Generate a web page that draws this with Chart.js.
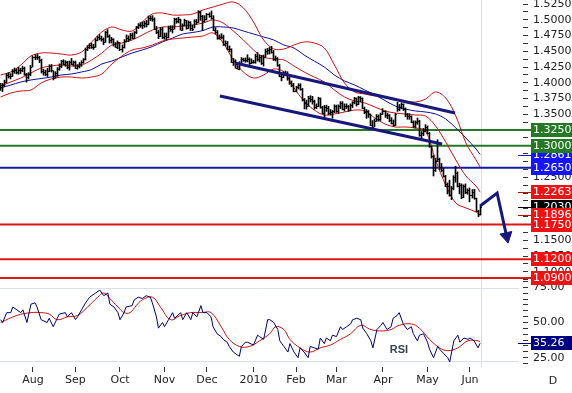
<!DOCTYPE html>
<html lang="en">
<head>
<meta charset="utf-8">
<title>EUR/USD diario</title>
<script src="https://cdn.jsdelivr.net/npm/chart.js@4.4.1/dist/chart.umd.min.js"></script>
<style>
  html, body { margin: 0; padding: 0; background: #ffffff; }
  #quadro { position: relative; width: 572px; height: 393px; overflow: hidden; }
  #graficoPreco { position: absolute; left: 0; top: 0; z-index: 2; }
  #graficoRsi { position: absolute; left: 0; top: 270px; z-index: 1; }
</style>
</head>
<body>
<div id="quadro">
  <canvas id="graficoRsi" width="572" height="123"></canvas>
  <canvas id="graficoPreco" width="572" height="285"></canvas>
</div>
<script>
// pregao 0 = 10/jul/2009 ... pregao 237 = 08/jun/2010 (dias uteis)
const maximas = [
  1.3990, 1.3990, 1.4040, 1.4150, 1.4160, 1.4145, 1.4210, 1.4235, 1.4220, 1.4245,
  1.4230, 1.4265, 1.4250, 1.4150, 1.4160, 1.4275, 1.4425, 1.4445, 1.4450, 1.4420,
  1.4375, 1.4215, 1.4200, 1.4230, 1.4285, 1.4290, 1.4190, 1.4175, 1.4240, 1.4300,
  1.4355, 1.4365, 1.4350, 1.4340, 1.4345, 1.4385, 1.4345, 1.4345, 1.4290, 1.4320,
  1.4350, 1.4385, 1.4550, 1.4590, 1.4620, 1.4630, 1.4610, 1.4700, 1.4740, 1.4765,
  1.4740, 1.4710, 1.4815, 1.4845, 1.4760, 1.4720, 1.4700, 1.4640, 1.4665, 1.4640,
  1.4600, 1.4685, 1.4760, 1.4745, 1.4785, 1.4790, 1.4815, 1.4895, 1.4940, 1.4955,
  1.4965, 1.4975, 1.4990, 1.5060, 1.5060, 1.5065, 1.5030, 1.4895, 1.4835, 1.4875,
  1.4880, 1.4790, 1.4790, 1.4900, 1.4905, 1.4905, 1.5025, 1.5025, 1.5040, 1.5010,
  1.4935, 1.5010, 1.4990, 1.4980, 1.4970, 1.4915, 1.5000, 1.5005, 1.5145, 1.5135,
  1.5070, 1.5065, 1.5100, 1.5110, 1.5140, 1.5065, 1.4875, 1.4830, 1.4760, 1.4780,
  1.4755, 1.4665, 1.4655, 1.4585, 1.4540, 1.4385, 1.4365, 1.4270, 1.4335, 1.4400,
  1.4390, 1.4395, 1.4445, 1.4395, 1.4380, 1.4355, 1.4455, 1.4480, 1.4435, 1.4435,
  1.4440, 1.4535, 1.4545, 1.4560, 1.4580, 1.4515, 1.4425, 1.4400, 1.4290, 1.4145,
  1.4175, 1.4185, 1.4175, 1.4085, 1.4030, 1.3990, 1.3945, 1.3985, 1.3985, 1.3910,
  1.3750, 1.3725, 1.3785, 1.3795, 1.3785, 1.3725, 1.3665, 1.3770, 1.3760, 1.3625,
  1.3640, 1.3645, 1.3625, 1.3575, 1.3560, 1.3650, 1.3645, 1.3650, 1.3700, 1.3700,
  1.3665, 1.3665, 1.3640, 1.3665, 1.3700, 1.3770, 1.3760, 1.3785, 1.3780, 1.3760,
  1.3615, 1.3575, 1.3560, 1.3505, 1.3400, 1.3425, 1.3495, 1.3490, 1.3520, 1.3590,
  1.3555, 1.3520, 1.3495, 1.3445, 1.3410, 1.3515, 1.3690, 1.3655, 1.3680, 1.3665,
  1.3600, 1.3515, 1.3510, 1.3475, 1.3395, 1.3395, 1.3440, 1.3405, 1.3225, 1.3275,
  1.3335, 1.3315, 1.3210, 1.2995, 1.2845, 1.2800, 1.3095, 1.2805, 1.2720, 1.2640,
  1.2530, 1.2410, 1.2455, 1.2355, 1.2525, 1.2675, 1.2585, 1.2405, 1.2395, 1.2380,
  1.2395, 1.2315, 1.2330, 1.2305, 1.2310, 1.2170, 1.1975, 1.2045
];
const minimas = [
  1.3880, 1.3860, 1.3940, 1.4000, 1.4075, 1.4060, 1.4100, 1.4150, 1.4140, 1.4135,
  1.4145, 1.4175, 1.4120, 1.4010, 1.4060, 1.4110, 1.4250, 1.4365, 1.4370, 1.4320,
  1.4155, 1.4120, 1.4110, 1.4100, 1.4175, 1.4170, 1.4045, 1.4070, 1.4100, 1.4200,
  1.4240, 1.4285, 1.4260, 1.4220, 1.4200, 1.4285, 1.4265, 1.4225, 1.4215, 1.4235,
  1.4260, 1.4310, 1.4360, 1.4510, 1.4540, 1.4545, 1.4530, 1.4560, 1.4665, 1.4680,
  1.4660, 1.4605, 1.4640, 1.4720, 1.4630, 1.4630, 1.4580, 1.4560, 1.4540, 1.4510,
  1.4485, 1.4550, 1.4650, 1.4655, 1.4680, 1.4700, 1.4700, 1.4780, 1.4860, 1.4880,
  1.4860, 1.4880, 1.4885, 1.4920, 1.4985, 1.4975, 1.4845, 1.4780, 1.4700, 1.4730,
  1.4700, 1.4690, 1.4680, 1.4710, 1.4815, 1.4790, 1.4850, 1.4945, 1.4950, 1.4835,
  1.4830, 1.4900, 1.4850, 1.4860, 1.4830, 1.4825, 1.4870, 1.4930, 1.4955, 1.4990,
  1.4830, 1.4960, 1.4995, 1.5040, 1.5010, 1.4825, 1.4775, 1.4690, 1.4690, 1.4695,
  1.4590, 1.4585, 1.4525, 1.4490, 1.4320, 1.4275, 1.4230, 1.4215, 1.4205, 1.4300,
  1.4340, 1.4325, 1.4330, 1.4290, 1.4300, 1.4310, 1.4310, 1.4345, 1.4330, 1.4290,
  1.4265, 1.4405, 1.4450, 1.4455, 1.4470, 1.4355, 1.4345, 1.4260, 1.4095, 1.4030,
  1.4080, 1.4110, 1.4040, 1.3975, 1.3935, 1.3855, 1.3855, 1.3900, 1.3880, 1.3710,
  1.3585, 1.3580, 1.3625, 1.3695, 1.3660, 1.3580, 1.3590, 1.3620, 1.3595, 1.3510,
  1.3440, 1.3545, 1.3495, 1.3485, 1.3435, 1.3525, 1.3530, 1.3515, 1.3590, 1.3570,
  1.3550, 1.3590, 1.3545, 1.3555, 1.3605, 1.3665, 1.3630, 1.3650, 1.3700, 1.3590,
  1.3510, 1.3435, 1.3450, 1.3320, 1.3270, 1.3300, 1.3385, 1.3390, 1.3400, 1.3495,
  1.3450, 1.3430, 1.3380, 1.3345, 1.3305, 1.3320, 1.3545, 1.3555, 1.3585, 1.3560,
  1.3460, 1.3420, 1.3420, 1.3365, 1.3285, 1.3280, 1.3340, 1.3150, 1.3115, 1.3160,
  1.3220, 1.3185, 1.2975, 1.2805, 1.2520, 1.2590, 1.2745, 1.2620, 1.2585, 1.2500,
  1.2350, 1.2235, 1.2200, 1.2145, 1.2300, 1.2420, 1.2345, 1.2235, 1.2160, 1.2175,
  1.2240, 1.2230, 1.2110, 1.2170, 1.2150, 1.1955, 1.1875, 1.1900
];
const fechamentos = [
  1.3935, 1.3965, 1.4010, 1.4125, 1.4110, 1.4110, 1.4190, 1.4200, 1.4175, 1.4210,
  1.4200, 1.4230, 1.4135, 1.4085, 1.4135, 1.4255, 1.4410, 1.4410, 1.4405, 1.4355,
  1.4180, 1.4170, 1.4145, 1.4190, 1.4265, 1.4195, 1.4075, 1.4160, 1.4225, 1.4270,
  1.4340, 1.4300, 1.4325, 1.4245, 1.4330, 1.4305, 1.4325, 1.4240, 1.4265, 1.4305,
  1.4330, 1.4370, 1.4535, 1.4565, 1.4595, 1.4570, 1.4575, 1.4680, 1.4720, 1.4715,
  1.4695, 1.4650, 1.4800, 1.4745, 1.4675, 1.4690, 1.4615, 1.4575, 1.4640, 1.4530,
  1.4570, 1.4665, 1.4715, 1.4695, 1.4760, 1.4715, 1.4800, 1.4880, 1.4915, 1.4915,
  1.4910, 1.4955, 1.4925, 1.5025, 1.5030, 1.5005, 1.4860, 1.4800, 1.4740, 1.4860,
  1.4720, 1.4750, 1.4725, 1.4875, 1.4860, 1.4855, 1.5010, 1.4980, 1.5005, 1.4845,
  1.4910, 1.4990, 1.4870, 1.4960, 1.4875, 1.4860, 1.4975, 1.4965, 1.5130, 1.5055,
  1.4985, 1.5005, 1.5085, 1.5060, 1.5035, 1.4845, 1.4805, 1.4715, 1.4725, 1.4730,
  1.4620, 1.4635, 1.4535, 1.4535, 1.4335, 1.4340, 1.4240, 1.4220, 1.4315, 1.4380,
  1.4360, 1.4365, 1.4370, 1.4310, 1.4325, 1.4330, 1.4420, 1.4370, 1.4410, 1.4310,
  1.4410, 1.4510, 1.4520, 1.4540, 1.4490, 1.4380, 1.4390, 1.4275, 1.4105, 1.4095,
  1.4145, 1.4145, 1.4070, 1.4000, 1.3970, 1.3865, 1.3930, 1.3965, 1.3900, 1.3735,
  1.3675, 1.3635, 1.3755, 1.3740, 1.3710, 1.3615, 1.3635, 1.3755, 1.3610, 1.3515,
  1.3615, 1.3595, 1.3525, 1.3535, 1.3545, 1.3625, 1.3555, 1.3630, 1.3685, 1.3580,
  1.3625, 1.3625, 1.3570, 1.3640, 1.3690, 1.3755, 1.3665, 1.3770, 1.3755, 1.3600,
  1.3530, 1.3545, 1.3500, 1.3325, 1.3290, 1.3395, 1.3470, 1.3425, 1.3510, 1.3550,
  1.3490, 1.3490, 1.3405, 1.3365, 1.3335, 1.3500, 1.3590, 1.3620, 1.3655, 1.3580,
  1.3505, 1.3480, 1.3465, 1.3380, 1.3320, 1.3380, 1.3390, 1.3165, 1.3195, 1.3230,
  1.3295, 1.3205, 1.2990, 1.2830, 1.2615, 1.2755, 1.2795, 1.2665, 1.2615, 1.2515,
  1.2390, 1.2365, 1.2215, 1.2325, 1.2500, 1.2570, 1.2365, 1.2375, 1.2185, 1.2365,
  1.2270, 1.2300, 1.2225, 1.2270, 1.2165, 1.1965, 1.1915, 1.2030
];

// bandas de Bollinger e media (lidas a cada 5 pregoes)
const bandaDias = [0, 5, 10, 15, 20, 25, 30, 35, 40, 45, 50, 55, 60, 65, 70, 75, 80, 85, 90, 95,
  100, 105, 110, 115, 120, 125, 130, 135, 140, 145, 150, 155, 160, 165, 170, 175, 180, 185, 190, 195,
  200, 205, 210, 215, 220, 225, 230, 235, 237];
const bandaSup = [1.4123, 1.4171, 1.4282, 1.4425, 1.4472, 1.4472, 1.4456, 1.4440, 1.4488, 1.4647,
  1.4806, 1.4885, 1.4837, 1.4821, 1.4964, 1.5091, 1.5107, 1.5075, 1.5075, 1.5091,
  1.5155, 1.5202, 1.5250, 1.5282, 1.5187, 1.4964, 1.4679, 1.4536, 1.4536, 1.4599,
  1.4647, 1.4631, 1.4552, 1.4282, 1.3996, 1.3853, 1.3821, 1.3790, 1.3774, 1.3742,
  1.3710, 1.3694, 1.3742, 1.3853, 1.3758, 1.3472, 1.3044, 1.2774, 1.2663];
const bandaMeio = [1.3948, 1.4012, 1.4075, 1.4155, 1.4234, 1.4266, 1.4282, 1.4266, 1.4282, 1.4361,
  1.4472, 1.4599, 1.4631, 1.4679, 1.4758, 1.4837, 1.4885, 1.4885, 1.4901, 1.4917,
  1.4948, 1.4996, 1.4948, 1.4821, 1.4679, 1.4520, 1.4409, 1.4377, 1.4361, 1.4266,
  1.4171, 1.4091, 1.4012, 1.3885, 1.3774, 1.3710, 1.3679, 1.3615, 1.3552, 1.3520,
  1.3504, 1.3488, 1.3472, 1.3313, 1.3060, 1.2774, 1.2520, 1.2361, 1.2263];
const bandaInf = [1.3774, 1.3837, 1.3869, 1.3885, 1.3996, 1.4060, 1.4091, 1.4091, 1.4075, 1.4091,
  1.4139, 1.4298, 1.4425, 1.4520, 1.4552, 1.4599, 1.4663, 1.4694, 1.4710, 1.4726,
  1.4742, 1.4790, 1.4631, 1.4361, 1.4171, 1.4075, 1.4123, 1.4218, 1.4171, 1.3917,
  1.3710, 1.3567, 1.3488, 1.3504, 1.3536, 1.3567, 1.3552, 1.3440, 1.3345, 1.3298,
  1.3298, 1.3282, 1.3234, 1.2774, 1.2377, 1.2091, 1.2012, 1.1948, 1.1896];
const mediaAzul = [1.3917, 1.3964, 1.4012, 1.4044, 1.4067, 1.4091, 1.4123, 1.4139, 1.4171, 1.4210,
  1.4298, 1.4345, 1.4409, 1.4472, 1.4520, 1.4575, 1.4647, 1.4710, 1.4774, 1.4798,
  1.4829, 1.4885, 1.4885, 1.4869, 1.4821, 1.4774, 1.4726, 1.4679, 1.4599, 1.4552,
  1.4440, 1.4345, 1.4250, 1.4123, 1.4028, 1.3964, 1.3885, 1.3806, 1.3718, 1.3631,
  1.3583, 1.3552, 1.3536, 1.3504, 1.3425, 1.3282, 1.3123, 1.2948, 1.2861];

// RSI e sua media
const rsiDias = [0, 1, 3, 5, 6, 10, 11, 13, 15, 17, 18, 20, 23, 24, 26, 28, 29, 32, 33, 35,
  37, 38, 40, 42, 44, 47, 49, 51, 53, 54, 56, 58, 59, 61, 62, 65, 66, 68, 70, 72,
  74, 75, 77, 78, 80, 81, 83, 85, 86, 89, 90, 92, 94, 95, 97, 99, 100, 102, 104, 105,
  107, 109, 110, 112, 113, 115, 117, 118, 119, 121, 122, 125, 127, 128, 130, 132, 133, 135, 137, 138,
  140, 142, 143, 145, 147, 148, 150, 152, 153, 155, 157, 158, 160, 161, 163, 164, 166, 168, 169, 171,
  173, 174, 176, 178, 179, 181, 183, 184, 186, 188, 189, 191, 193, 194, 196, 197, 199, 201, 203, 204,
  206, 207, 209, 211, 212, 214, 216, 217, 219, 221, 222, 224, 226, 227, 229, 231, 232, 234, 236, 237];
const rsiValores = [52, 50, 57, 57, 61, 57, 59, 50, 63, 64, 61, 52, 50, 53, 47, 53, 56, 57, 54, 57,
  52, 54, 59, 64, 68, 71, 73, 69, 71, 63, 61, 57, 52, 57, 61, 62, 66, 68, 67, 69,
  68, 64, 54, 46, 50, 47, 52, 57, 53, 57, 52, 57, 52, 57, 54, 62, 57, 57, 54, 47,
  42, 40, 38, 36, 33, 29, 27, 26, 33, 36, 36, 34, 41, 40, 38, 52, 52, 50, 45, 37,
  33, 29, 35, 29, 25, 32, 29, 25, 33, 32, 31, 39, 35, 39, 37, 41, 40, 47, 45, 47,
  49, 52, 53, 52, 46, 42, 37, 32, 45, 48, 50, 45, 47, 53, 55, 57, 49, 45, 47, 42,
  37, 41, 42, 36, 31, 25, 33, 31, 28, 25, 22, 37, 41, 36, 39, 38, 39, 37, 32, 35.26];
const rsiMediaDias = [0, 8, 15, 20, 24, 28, 33, 38, 43, 48, 51, 54, 58, 61, 64, 67, 70, 75, 79, 84,
  89, 94, 99, 104, 109, 113, 118, 123, 128, 133, 136, 140, 143, 148, 153, 158, 163, 168, 173, 178,
  183, 188, 193, 197, 203, 207, 212, 217, 221, 226, 231, 236, 237];
const rsiMediaValores = [50, 55, 57, 57, 56, 52, 54, 55, 61, 68, 71, 67, 61, 57, 57, 62, 66, 68, 61, 52,
  55, 57, 57, 57, 47, 38, 33, 33, 37, 42, 47, 45, 38, 32, 29, 32, 34, 38, 42, 48,
  45, 44, 45, 48, 49, 46, 38, 32, 30, 32, 37, 37, 36];

// eixo de tempo
const meses = ['Aug', 'Sep', 'Oct', 'Nov', 'Dec', '2010', 'Feb', 'Mar', 'Apr', 'May', 'Jun'];
const mesDias = [16, 37, 59, 81, 102, 125, 146, 166, 189, 211, 232];

// niveis horizontais, canal e seta
const niveis = [1.3250, 1.3000, 1.2650, 1.1750, 1.1200, 1.0900];
const canalSupDias = [115.9, 224.6];
const canalSupValores = [1.4313, 1.3520];
const canalInfDias = [108.4, 218.2];
const canalInfValores = [1.3790, 1.3028];
const setaDias = [237, 245.4, 250.1];
const setaValores = [1.2044, 1.2250, 1.1564];

// rotulos da direita
const rotulosPreco = [1.2861, 1.2263, 1.2030, 1.1896, 1.3250, 1.3000, 1.2650, 1.1750, 1.1200, 1.0900];
const rotuloRsi = 35.26;

const VERDE = '#247a24';
const AZUL_NIVEL = '#1717a8';
const VERMELHO = '#dd1616';
const MARINHO = '#17177c';
const coresNiveis = [VERDE, VERDE, AZUL_NIVEL, VERMELHO, VERMELHO, VERMELHO];
const coresRotulos = ['#1515ff', '#ee1212', '#000000', '#ee1212', VERDE, VERDE, '#1515ff', '#ee1212', '#ee1212', '#ee1212'];
const linhasRotulos = ['#1a1acc', '#cc0000', '#000000', '#cc0000', null, null, null, null, null, null];

const X_MIN = -0.31;
const X_MAX = 258.2;
const X_FIM_NIVEL = 262.2;
const DIA_ATUAL = 237.5;
const FONTE = 'DejaVu Sans';

Chart.defaults.font.family = FONTE;
Chart.defaults.font.size = 11;
Chart.defaults.color = '#222222';

function pontos(diasArr, valores) {
  return diasArr.map((d, i) => ({ x: d, y: valores[i] }));
}

function zerarPadding(scale) {
  scale.paddingTop = 0;
  scale.paddingBottom = 0;
  scale.paddingLeft = 0;
  scale.paddingRight = 0;
}

function desenharRotulo(ctx, area, y, texto, fundo, linha) {
  const yy = Math.round(y);
  if (linha) {
    ctx.strokeStyle = linha;
    ctx.lineWidth = 1;
    ctx.beginPath();
    ctx.moveTo(area.right - 5, yy + 0.5);
    ctx.lineTo(area.right + 8, yy + 0.5);
    ctx.stroke();
  }
  ctx.fillStyle = fundo;
  ctx.fillRect(area.right + 8, yy - 7, 572 - area.right - 8, 14);
  ctx.fillStyle = '#ffffff';
  ctx.font = '11px "' + FONTE + '"';
  ctx.textAlign = 'left';
  ctx.textBaseline = 'middle';
  ctx.fillText(texto, area.right + 10, yy + 0.5);
}

const marcasPreco = {
  id: 'marcasPreco',
  beforeDatasetsDraw(chart) {
    const { ctx, chartArea, scales: { x } } = chart;
    const px = Math.round(x.getPixelForValue(DIA_ATUAL)) + 0.5;
    ctx.save();
    ctx.strokeStyle = '#d8e1ea';
    ctx.lineWidth = 1;
    ctx.beginPath();
    ctx.moveTo(px, chartArea.top);
    ctx.lineTo(px, chartArea.bottom);
    ctx.stroke();
    ctx.restore();
  },
  beforeDatasetDraw(chart, args) {
    if (args.meta.type !== 'bar') return;
    args.meta.data.forEach((el) => { el.x = Math.floor(el.x) + 0.5; });
  },
  afterDatasetDraw(chart, args) {
    if (args.meta.type !== 'bar') return;
    const { ctx, scales: { y } } = chart;
    ctx.save();
    ctx.fillStyle = '#000000';
    args.meta.data.forEach((el, i) => {
      const bx = Math.floor(el.x);
      const abertura = i > 0 ? fechamentos[i - 1] : fechamentos[i];
      ctx.fillRect(bx - 1, Math.round(y.getPixelForValue(abertura)), 1, 1);
      ctx.fillRect(bx + 1, Math.round(y.getPixelForValue(fechamentos[i])), 1, 1);
    });
    ctx.restore();
  },
  afterDraw(chart) {
    const { ctx, chartArea, scales: { y } } = chart;
    ctx.save();
    rotulosPreco.forEach((v, k) => {
      desenharRotulo(ctx, chartArea, y.getPixelForValue(v), v.toFixed(4), coresRotulos[k], linhasRotulos[k]);
    });
    ctx.restore();
  },
};

const extrasRsi = {
  id: 'extrasRsi',
  beforeDatasetsDraw(chart) {
    const { ctx, chartArea, scales: { x } } = chart;
    const topo = chartArea.top + 7.5;
    const base = chartArea.bottom - 5.5;
    const px = Math.round(x.getPixelForValue(DIA_ATUAL)) + 0.5;
    ctx.save();
    ctx.strokeStyle = '#d8e1ea';
    ctx.lineWidth = 1;
    ctx.beginPath();
    ctx.moveTo(0, topo);
    ctx.lineTo(chartArea.right - 4, topo);
    ctx.moveTo(0, base);
    ctx.lineTo(chartArea.right - 4, base);
    ctx.moveTo(px, chartArea.top);
    ctx.lineTo(px, chartArea.bottom);
    ctx.stroke();
    ctx.restore();
  },
  afterDraw(chart) {
    const { ctx, chartArea, scales: { y } } = chart;
    ctx.save();
    desenharRotulo(ctx, chartArea, y.getPixelForValue(rotuloRsi), rotuloRsi.toFixed(2), '#000080', '#000080');
    ctx.fillStyle = '#3a424c';
    ctx.font = 'bold 11px "Liberation Sans"';
    ctx.textAlign = 'center';
    ctx.textBaseline = 'middle';
    ctx.fillText('RSI', 399, chartArea.top + 69);
    ctx.fillStyle = '#222222';
    ctx.font = '11px "' + FONTE + '"';
    ctx.fillText('D', 553, chartArea.bottom + 14);
    ctx.restore();
  },
};

function linha(dados, cor, largura, ordem, extra) {
  return Object.assign({
    type: 'line',
    data: dados,
    borderColor: cor,
    borderWidth: largura,
    pointRadius: 0,
    tension: 0,
    fill: false,
    order: ordem,
  }, extra || {});
}

function criarGraficoPreco() {
  const canvas = document.getElementById('graficoPreco');
  const contexto = canvas.getContext('2d');

  const datasets = [];
  datasets.push(linha(pontos(canalSupDias, canalSupValores), MARINHO, 3, 0));
  datasets.push(linha(pontos(canalInfDias, canalInfValores), MARINHO, 3, 0));
  datasets.push(linha(pontos(setaDias, setaValores), MARINHO, 3, 0, {
    pointRadius: [0, 0, 7],
    pointStyle: 'triangle',
    pointRotation: [0, 0, 167.6],
    pointBackgroundColor: MARINHO,
    pointBorderColor: MARINHO,
    pointBorderWidth: 1,
    borderJoinStyle: 'miter',
    clip: false,
  }));
  datasets.push({
    type: 'bar',
    data: maximas.map((h, i) => ({ x: i, y: [minimas[i], h] })),
    backgroundColor: '#000000',
    borderWidth: 0,
    barThickness: 1,
    grouped: false,
    order: 1,
  });
  datasets.push(linha(pontos(bandaDias, bandaSup), '#cc1010', 1, 2, { tension: 0.35 }));
  datasets.push(linha(pontos(bandaDias, bandaMeio), '#cc1010', 1, 2, { tension: 0.35 }));
  datasets.push(linha(pontos(bandaDias, bandaInf), '#cc1010', 1, 2, { tension: 0.35 }));
  datasets.push(linha(pontos(bandaDias, mediaAzul), '#0c0c9c', 1, 2, { tension: 0.35 }));
  niveis.forEach((v, k) => {
    datasets.push(linha([{ x: X_MIN - 1, y: v }, { x: X_FIM_NIVEL, y: v }], coresNiveis[k], 2, 3, { clip: false }));
  });

  new Chart(contexto, {
    type: 'line',
    data: { datasets: datasets },
    plugins: [marcasPreco],
    options: {
      responsive: false,
      animation: false,
      events: [],
      layout: { padding: 0, autoPadding: false },
      plugins: { legend: { display: false }, tooltip: { enabled: false } },
      scales: {
        x: {
          type: 'linear',
          min: X_MIN,
          max: X_MAX,
          offset: false,
          display: false,
        },
        y: {
          type: 'linear',
          position: 'right',
          min: 1.07897,
          max: 1.53135,
          border: { display: false },
          grid: { drawOnChartArea: false, drawTicks: true, tickLength: 5, color: '#333333' },
          ticks: {
            autoSkip: false,
            padding: 5,
            color: '#222222',
            font: { size: 11 },
            callback: (valor) => {
              const n = Math.round(valor / 0.025);
              return Math.abs(valor - n * 0.025) < 1e-7 ? Number(valor).toFixed(4) : '';
            },
          },
          afterBuildTicks: (scale) => {
            const marcas = [];
            for (let k = 87; k <= 122; k++) marcas.push({ value: k * 0.0125 });
            scale.ticks = marcas;
          },
          afterFit: (scale) => { scale.width = 49; zerarPadding(scale); },
        },
      },
    },
  });
}

function criarGraficoRsi() {
  const canvas = document.getElementById('graficoRsi');
  const contexto = canvas.getContext('2d');

  new Chart(contexto, {
    type: 'line',
    data: {
      datasets: [
        linha(pontos(rsiDias, rsiValores), '#000070', 1, 0),
        linha(pontos(rsiMediaDias, rsiMediaValores), '#cc1010', 1, 1, { tension: 0.4 }),
      ],
    },
    plugins: [extrasRsi],
    options: {
      responsive: false,
      animation: false,
      events: [],
      layout: { padding: { top: 11, left: 0, right: 0, bottom: 0 }, autoPadding: false },
      plugins: { legend: { display: false }, tooltip: { enabled: false } },
      scales: {
        x: {
          type: 'linear',
          min: X_MIN,
          max: X_MAX,
          offset: false,
          border: { display: false },
          grid: { drawOnChartArea: false, drawTicks: true, tickLength: 5, color: '#333333' },
          ticks: {
            autoSkip: false,
            maxRotation: 0,
            padding: 2,
            color: '#222222',
            font: { size: 11 },
            callback: (valor, indice) => meses[indice],
          },
          afterBuildTicks: (scale) => {
            scale.ticks = mesDias.map((d) => ({ value: d }));
          },
          afterFit: (scale) => { scale.height = 26; zerarPadding(scale); },
        },
        y: {
          type: 'linear',
          position: 'right',
          min: 18.4,
          max: 79.47,
          border: { display: false },
          grid: { drawOnChartArea: false, drawTicks: true, tickLength: 5, color: '#333333' },
          ticks: {
            autoSkip: false,
            padding: 5,
            color: '#222222',
            font: { size: 11 },
            callback: (valor) => {
              const k = Math.round(valor / (25 / 6));
              return k % 6 === 0 ? Number(valor).toFixed(2) : '';
            },
          },
          afterBuildTicks: (scale) => {
            const marcas = [];
            for (let k = 5; k <= 19; k++) marcas.push({ value: k * 25 / 6 });
            scale.ticks = marcas;
          },
          afterFit: (scale) => { scale.width = 49; zerarPadding(scale); },
        },
      },
    },
  });
}

document.addEventListener('DOMContentLoaded', () => {
  criarGraficoRsi();
  criarGraficoPreco();
});
</script>
</body>
</html>
